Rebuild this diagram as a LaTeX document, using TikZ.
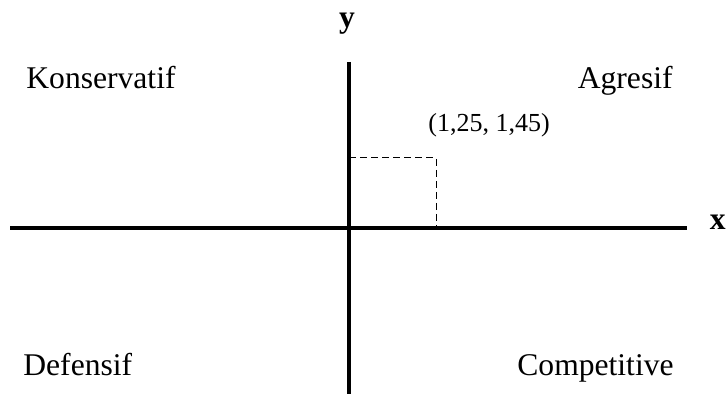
\documentclass[tikz,border=0pt]{standalone}
\usepackage{fontspec}
\setmainfont{Liberation Serif}

\begin{document}
\begin{tikzpicture}[x=0.5pt, y=-0.5pt,
    axis/.style={line width=1.75pt},
    guide/.style={line width=0.5pt, dash pattern=on 3.5pt off 2pt},
    quad/.style={inner sep=0pt, font=\fontsize{15.8}{19}\selectfont},
    axlabel/.style={inner sep=0pt, font=\fontsize{15.8}{19}\selectfont\bfseries}]
  \useasboundingbox (0,0) rectangle (727,394);

  % the two axes, crossing at the origin
  \coordinate (o) at (349,228);
  \coordinate (xl) at (10,228);
  \coordinate (xr) at (687,228);
  \coordinate (yt) at (349,62);
  \coordinate (yb) at (349,394);
  \draw[axis] (xl) -- (xr);
  \draw[axis] (yt) -- (yb);
  \node[axlabel, anchor=base east] (xlab) at (726,230) {x};
  \node[axlabel, anchor=base] (ylab) at (347,28) {y};

  % the point and its guides to the axes
  \coordinate (pt) at (436,158);
  \draw[guide] (o |- pt) -- (pt) -- (pt |- o);
  \node[inner sep=0pt, anchor=base west, font=\fontsize{13}{15}\selectfont]
      (ptlab) at (428,132) {(1,25, 1,45)};

  % quadrant names
  \node[quad, anchor=base west] (kons) at (26,89) {Konservatif};
  \node[quad, anchor=base east] (agr) at (673,89) {Agresif};
  \node[quad, anchor=base west] (def) at (23,376) {Defensif};
  \node[quad, anchor=base east] (comp) at (674,376) {Competitive};
\end{tikzpicture}
\end{document}
